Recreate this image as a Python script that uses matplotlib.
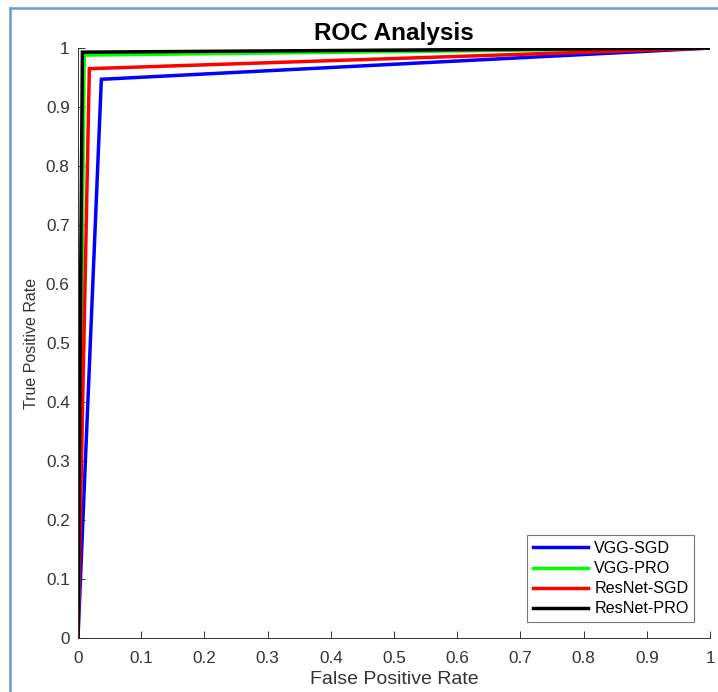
import matplotlib.pyplot as plt
from matplotlib.lines import Line2D

plt.rcParams['font.family'] = ['Liberation Sans', 'DejaVu Sans']

# ROC curves: (FPR, TPR) points for each model
labels = ['VGG-SGD', 'VGG-PRO', 'ResNet-SGD', 'ResNet-PRO']
colors = ['#0000ff', '#00ff00', '#ff0000', '#000000']
fpr = [[0, 0.037, 1],
       [0, 0.010, 1],
       [0, 0.018, 1],
       [0, 0.007, 1]]
tpr = [[0, 0.947, 1],
       [0, 0.988, 1],
       [0, 0.965, 1],
       [0, 0.993, 1]]
ticks = [0, 0.1, 0.2, 0.3, 0.4, 0.5, 0.6, 0.7, 0.8, 0.9, 1]
tick_labels = ['0', '0.1', '0.2', '0.3', '0.4', '0.5', '0.6', '0.7', '0.8', '0.9', '1']

fig = plt.figure(figsize=(7.18, 6.92), dpi=100)
ax = fig.add_axes([0.1086, 0.078, 0.8803, 0.8526])

for x, y, c, lab in zip(fpr, tpr, colors, labels):
    ax.plot(x, y, color=c, lw=2.5, label=lab, solid_joinstyle='miter')

ax.set_xlim(0, 1)
ax.set_ylim(0, 1)
ax.set_xticks(ticks)
ax.set_xticklabels(tick_labels)
ax.set_yticks(ticks)
ax.set_yticklabels(tick_labels)
ax.tick_params(direction='in', length=5, width=0.7, colors='#333333', labelsize=12.3)
ax.tick_params(axis='y', pad=6)
ax.tick_params(axis='x', pad=9)
for s in ['top', 'right']:
    ax.spines[s].set_visible(False)
for s in ['left', 'bottom']:
    ax.spines[s].set_color('#333333')
    ax.spines[s].set_linewidth(0.7)

ax.set_title('ROC Analysis', fontsize=17.5, fontweight='bold', pad=6)
ax.set_xlabel('False Positive Rate', fontsize=14, color='#333333', labelpad=4)
ax.set_ylabel('True Positive Rate', fontsize=11.5, color='#333333', labelpad=5)

leg = ax.legend(loc='lower right', bbox_to_anchor=(0.975, 0.027), fontsize=11.6,
                frameon=True, fancybox=False, edgecolor='#555555', handlelength=3.4,
                handletextpad=0.4, labelspacing=0.32, borderpad=0.35, borderaxespad=0)
leg.get_frame().set_linewidth(0.8)

# light blue frame of the screenshot (top and left edges)
fig.add_artist(Line2D([10 / 718, 1], [1 - 8 / 692, 1 - 8 / 692], color='#6a9bd8', lw=1.8,
                      transform=fig.transFigure))
fig.add_artist(Line2D([10 / 718, 10 / 718], [0, 1 - 8 / 692], color='#6a9bd8', lw=1.8,
                      transform=fig.transFigure))

fig.savefig('out.png', dpi=100)
